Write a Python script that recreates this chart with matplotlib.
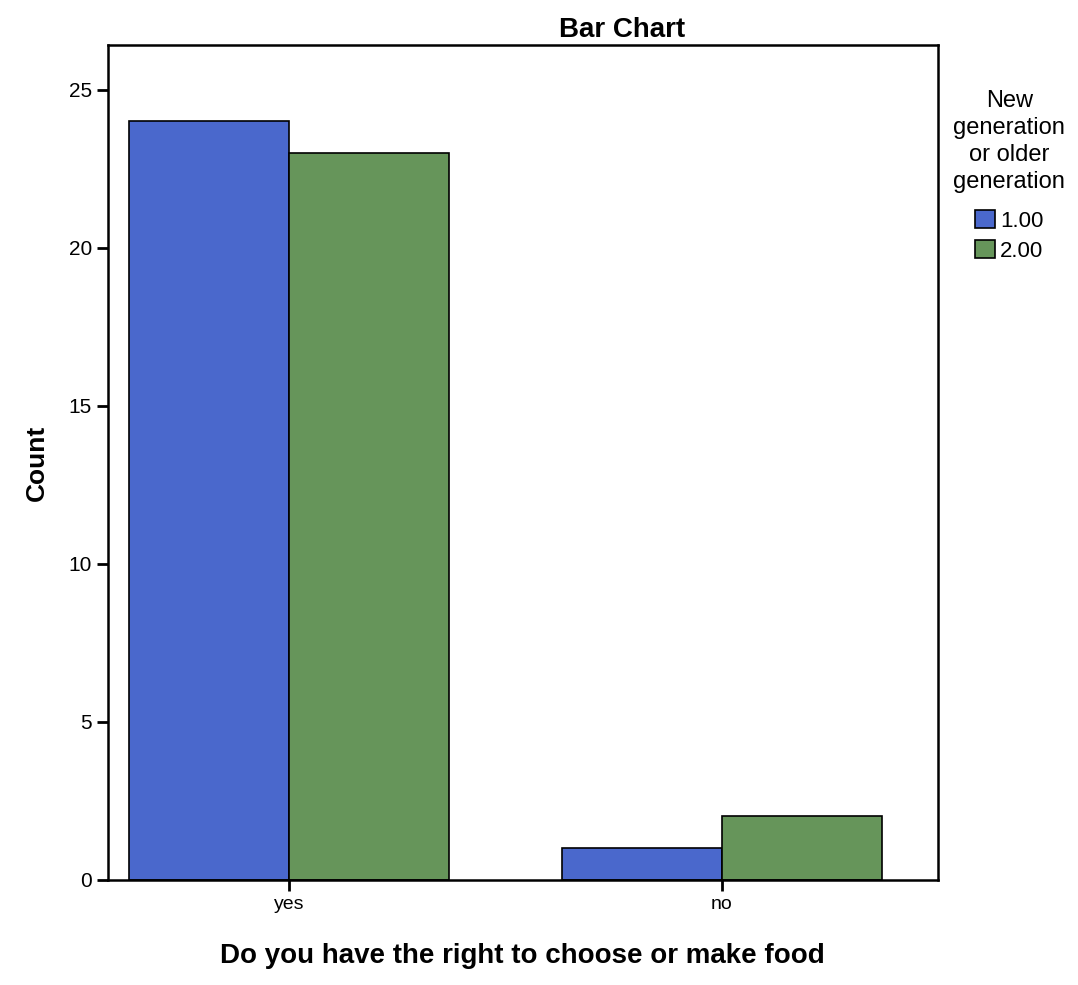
import matplotlib
matplotlib.use("Agg")
import matplotlib.pyplot as plt
import numpy as np

categories = ["yes", "no"]
series_labels = ["1.00", "2.00"]
gen1_counts = [24, 1]
gen2_counts = [23, 2]
y_ticks = [0, 5, 10, 15, 20, 25]

colors = ["#4a68cc", "#66955a"]

plt.rcParams['font.family'] = ['Liberation Sans', 'DejaVu Sans']

fig = plt.figure(figsize=(10.78, 9.85), dpi=100)
ax = fig.add_axes([0.1, 0.107, 0.77, 0.847])

x = np.arange(len(categories))
w = 0.37
ax.bar(x - w / 2, gen1_counts, width=w, color=colors[0], edgecolor="black", linewidth=1.2, label=series_labels[0])
ax.bar(x + w / 2, gen2_counts, width=w, color=colors[1], edgecolor="black", linewidth=1.2, label=series_labels[1])

ax.set_xlim(-0.42, 1.5)
ax.set_ylim(0, 26.4)
ax.set_yticks(y_ticks)
ax.set_yticklabels([str(t) for t in y_ticks], fontsize=15)
ax.set_xticks(x)
ax.set_xticklabels(categories, fontsize=14)
ax.tick_params(axis="both", direction="out", length=8, width=2)
for s in ax.spines.values():
    s.set_linewidth(1.8)

ax.set_ylabel("Count", fontsize=19, fontweight="bold", labelpad=14)
ax.set_xlabel("Do you have the right to choose or make food", fontsize=20, fontweight="bold", labelpad=22)
ax.set_title("Bar Chart", fontsize=20, fontweight="bold", pad=6, x=0.62)

leg = ax.legend(title="New\ngeneration\nor older\ngeneration", loc="upper left",
                bbox_to_anchor=(1.0, 0.965), frameon=False, fontsize=16,
                title_fontsize=17, handlelength=0.9, handleheight=0.9,
                handletextpad=0.2, borderaxespad=0.3, labelspacing=0.35)
leg._legend_box.align = "center"
leg._legend_box.sep = 12
leg.get_title().set_multialignment("center")
leg.get_title().set_linespacing(1.3)

fig.savefig("out.png", dpi=100, facecolor="white")
